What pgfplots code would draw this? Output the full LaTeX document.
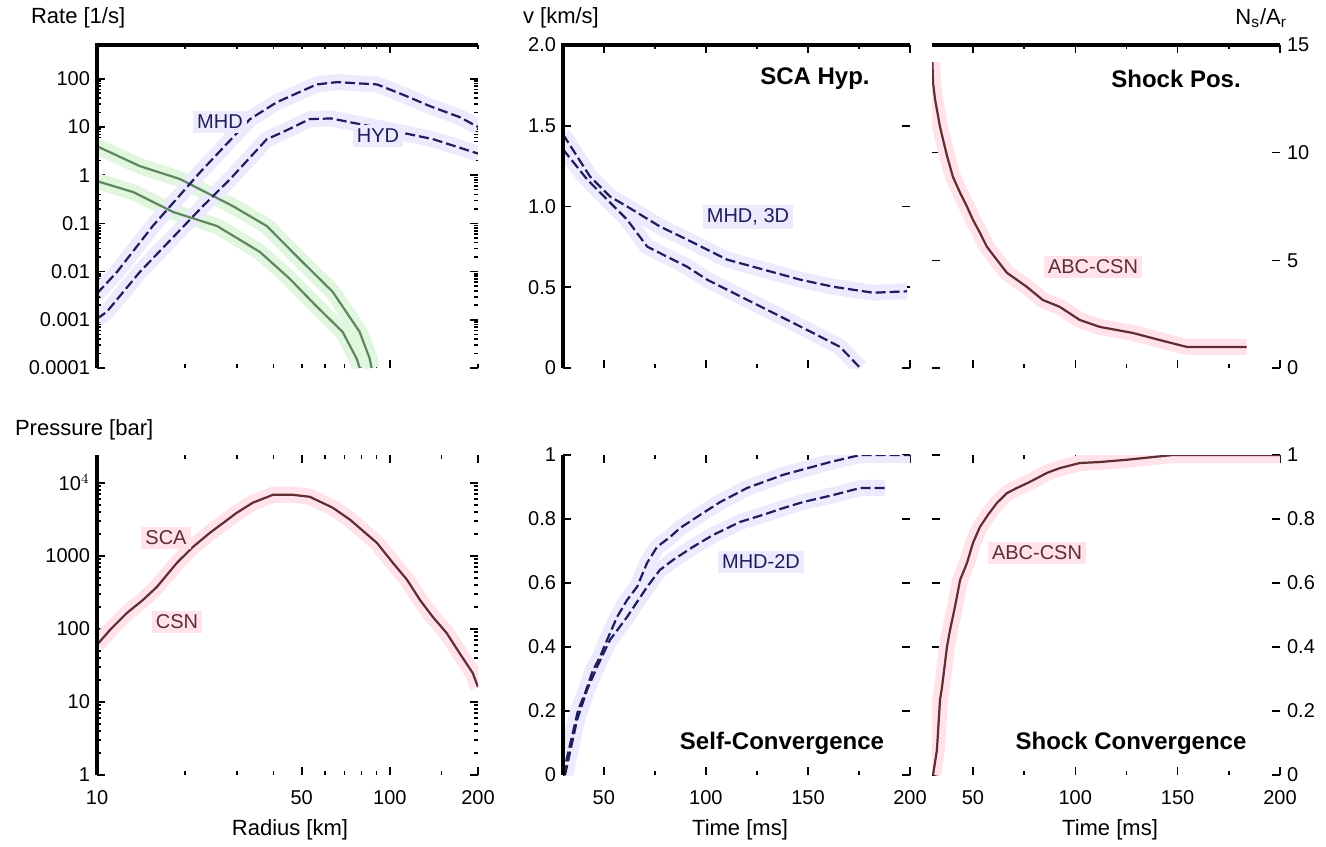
\documentclass[border=0pt]{standalone}
\usepackage{fontspec}
\setmainfont{Liberation Sans}
\usepackage{pgfplots}
\pgfplotsset{compat=1.18}
\usepackage{pgfplotstable}

\definecolor{bline}{RGB}{30,30,95}
\definecolor{bglow}{RGB}{236,234,252}
\definecolor{gline}{RGB}{95,135,95}
\definecolor{gglow}{RGB}{224,246,222}
\definecolor{rline}{RGB}{95,45,50}
\definecolor{rglow}{RGB}{255,226,234}

% top-left
\pgfplotstableread{
x y
10 0.0035
11.7 0.0098
15.5 0.088
22.5 1.15
33.3 14.5
41.1 32.5
56.2 76
66 85
90.5 76
114.5 43
137 27
173 16
200 10
}\tlA
\pgfplotstableread{
x y
10 0.00105
10.8 0.00146
14.0 0.0098
23.0 0.228
28.5 0.83
38.0 5.56
43.1 7.8
53.2 14.5
63 15
92 9.5
140 5.6
200 2.8
}\tlB
\pgfplotstableread{
x y
10 3.98
14.0 1.54
19.2 0.83
29.1 0.228
38.0 0.088
49.1 0.0183
63.8 0.0038
78.9 0.00056
85.4 0.000155
86.6 0.0001
}\tlGa
\pgfplotstableread{
x y
10 0.75
13.3 0.445
18.2 0.172
25.7 0.088
36.0 0.0255
45.5 0.0071
56.2 0.0019
69.0 0.00056
77.1 0.000155
78.9 0.0001
}\tlGb
% top-middle
\pgfplotstableread{
x y
30 1.447
43.2 1.186
53.0 1.062
61.4 1.0
77.5 0.876
90.8 0.795
110.4 0.671
123.1 0.627
146.2 0.547
162.4 0.503
182.0 0.466
198.6 0.475
}\tmA
\pgfplotstableread{
x y
30 1.354
41.8 1.168
51.6 1.043
61.4 0.919
71.2 0.752
81.0 0.689
90.8 0.627
100.6 0.547
113.3 0.466
132.9 0.342
152.5 0.217
165.8 0.130
175.6 0.0
}\tmB
% top-right
\pgfplotstableread{
x y
30.2 14.2
30.5 13.26
31.5 12.47
33.9 11.2
37.3 9.86
40.2 8.88
43.7 8.14
47.1 7.49
50.0 6.88
53.4 6.28
56.8 5.63
61.7 5.02
66.6 4.42
76.3 3.77
84.1 3.16
92.4 2.84
102.2 2.23
111.9 1.91
128.0 1.63
141.2 1.30
154.4 0.98
167.1 0.98
183.7 0.98
}\trA
% bottom-left
\pgfplotstableread{
x y
10 60.4
11.08 96.9
12.66 165.5
14.35 249
16.02 376
18.75 802
21.27 1327
24.3 2065
30.0 3882
34.0 5324
39.9 6850
46.6 6850
53.3 6430
63.9 4545
73.2 3113
90.3 1507
102.4 802
114.5 469
126.7 249
140.1 146
156.2 88.1
172.8 46.9
191.9 24.9
200 16.0
}\blA
% bottom-middle
\pgfplotstableread{
x y
30 0.0
37.4 0.203
40.8 0.256
44.7 0.328
48.1 0.369
51.6 0.422
56.5 0.494
61.4 0.547
66.3 0.588
71.2 0.663
76.1 0.713
82.5 0.744
87.4 0.772
97.2 0.813
107.0 0.853
120.2 0.897
137.8 0.938
160.9 0.978
175.6 1.0
200 1.0
}\bmA
\pgfplotstableread{
x y
31 0.0
36.9 0.172
41.8 0.266
46.7 0.338
53.0 0.422
61.4 0.494
71.2 0.588
77.5 0.641
83.9 0.672
93.7 0.713
103.5 0.75
116.8 0.791
128.0 0.813
137.8 0.834
147.6 0.853
162.4 0.875
175.6 0.897
187.8 0.897
}\bmB
% bottom-right
\pgfplotstableread{
x y
30.5 0.0
32.4 0.078
33.9 0.234
34.9 0.275
37.3 0.4
38.8 0.453
41.2 0.525
43.7 0.609
47.1 0.663
50.0 0.725
53.4 0.775
57.3 0.8125
61.7 0.85
66.6 0.881
71.5 0.897
77.8 0.916
86.1 0.944
92.4 0.959
102.2 0.975
111.9 0.978
125 0.985
147.6 1.0
200 1.0
}\brA

\pgfplotsset{
  panel/.style={scale only axis, anchor=north west, axis line style={draw=none},
    clip mode=individual,
    tick align=inside, major tick length=4pt, minor tick length=2pt,
    every tick/.style={black, line width=0.8pt},
    tick label style={font=\fontsize{10}{12}\selectfont},
    xticklabel style={yshift=-4pt},
    /pgf/number format/assume math mode=true},
  glow/.style={line width=8pt, line join=round},
  bl/.style={bline, line width=1.1pt, dash pattern=on 5pt off 2pt},
  gl/.style={gline, line width=1.1pt},
  rl/.style={rline, line width=1.1pt},
}

\begin{document}
\begin{tikzpicture}
\path[use as bounding box] (0,0) rectangle (663pt,-423pt);

% top-left
\begin{axis}[panel, at={(48.5pt,-22.5pt)}, width=190.5pt, height=161.5pt,
  xmode=log, ymode=log, xmin=10, xmax=200, ymin=1e-4, ymax=500,
  xtick={10,100}, minor xtick={20,30,40,50,60,70,80,90,200}, xticklabels={},
  ytick={1e-4,1e-3,1e-2,1e-1,1,10,100},
  yticklabels={0.0001,0.001,0.01,0.1,1,10,100}]
\addplot[gglow, glow] table {\tlGa};
\addplot[gglow, glow] table {\tlGb};
\addplot[bglow, glow] table {\tlA};
\addplot[bglow, glow] table {\tlB};
\addplot[gl] table {\tlGa};
\addplot[gl] table {\tlGb};
\addplot[bl] table {\tlA};
\addplot[bl] table {\tlB};
\draw[line width=2pt] (rel axis cs:0,0) -- (rel axis cs:0,1) -- (rel axis cs:1,1);
\end{axis}

% top-middle
\begin{axis}[panel, at={(281.5pt,-22.5pt)}, width=173.5pt, height=161.5pt,
  xmin=30, xmax=200, ymin=0, ymax=2,
  xtick={50,100,150,200}, minor xtick={75,125,175}, xticklabels={},
  ytick={0,0.5,1,1.5,2}, yticklabels={0,0.5,1.0,1.5,2.0}]
\addplot[bglow, glow] table {\tmA};
\addplot[bglow, glow] table {\tmB};
\addplot[bl] table {\tmA};
\addplot[bl] table {\tmB};
\draw[line width=2pt] (rel axis cs:0,0) -- (rel axis cs:0,1) -- (rel axis cs:1,1);
\end{axis}

% top-right
\begin{axis}[panel, at={(466pt,-22.5pt)}, width=174pt, height=161.5pt,
  xmin=30, xmax=200, ymin=0, ymax=15,
  xtick={50,100,150,200}, minor xtick={75,125,175}, xticklabels={},
  ytick={0,5,10,15}, yticklabel pos=right]
\addplot[rglow, glow] table {\trA};
\addplot[rl] table {\trA};
\draw[line width=2pt] (rel axis cs:0,1) -- (rel axis cs:1,1);
\end{axis}

% bottom-left
\begin{axis}[panel, at={(48.5pt,-227.5pt)}, width=190.5pt, height=160pt,
  xmode=log, ymode=log, xmin=10, xmax=200, ymin=1, ymax=24000,
  xtick={10,50,100,200}, xticklabels={10,50,100,200},
  minor xtick={20,30,40,60,70,80,90,150},
  ytick={1,10,100,1000,10000}, yticklabels={1,10,100,1000,10$^4$}]
\addplot[rglow, glow] table {\blA};
\addplot[rl] table {\blA};
\draw[line width=2pt] (rel axis cs:0,0) -- (rel axis cs:0,1);
\end{axis}

% bottom-middle
\begin{axis}[panel, at={(281.5pt,-227.5pt)}, width=173.5pt, height=160pt,
  xmin=30, xmax=200, ymin=0, ymax=1,
  xtick={50,100,150,200}, minor xtick={75,125,175},
  ytick={0,0.2,0.4,0.6,0.8,1}]
\addplot[bglow, glow] table {\bmA};
\addplot[bglow, glow] table {\bmB};
\addplot[bl] table {\bmA};
\addplot[bl] table {\bmB};
\draw[line width=2pt] (rel axis cs:0,0) -- (rel axis cs:0,1);
\end{axis}

% bottom-right
\begin{axis}[panel, at={(466pt,-227.5pt)}, width=174pt, height=160pt,
  xmin=30, xmax=200, ymin=0, ymax=1,
  xtick={50,100,150,200}, minor xtick={75,125,175},
  ytick={0,0.2,0.4,0.6,0.8,1}, yticklabel pos=right]
\addplot[rglow, glow] table {\brA};
\addplot[rl] table {\brA};
\end{axis}

% texts
\begin{scope}[every node/.style={font=\fontsize{11}{13}\selectfont}]
\node[anchor=west] at (12pt,-9pt) {Rate [1/s]};
\node[anchor=west] at (258pt,-9pt) {v [km/s]};
\node[anchor=east] at (647pt,-9pt) {N\textsubscript{s}/A\textsubscript{r}};
\node[anchor=west] at (4pt,-215pt) {Pressure [bar]};
\node at (145pt,-415pt) {Radius [km]};
\node at (370pt,-415pt) {Time [ms]};
\node at (555pt,-415pt) {Time [ms]};
\end{scope}
\begin{scope}[every node/.style={font=\fontsize{10}{12}\selectfont, inner sep=2pt}]
\node[text=bline, fill=bglow] at (110pt,-61pt) {MHD};
\node[text=bline, fill=bglow] at (189pt,-68pt) {HYD};
\node[text=bline, fill=bglow] at (374pt,-108.5pt) {MHD, 3D};
\node[text=rline, fill=rglow] at (546.5pt,-133.5pt) {ABC-CSN};
\node[text=rline, fill=rglow] at (83pt,-269pt) {SCA};
\node[text=rline, fill=rglow] at (88.5pt,-311pt) {CSN};
\node[text=bline, fill=bglow] at (380.5pt,-281pt) {MHD-2D};
\node[text=rline, fill=rglow] at (518.5pt,-276.5pt) {ABC-CSN};
\end{scope}
\begin{scope}[every node/.style={font=\bfseries\fontsize{12}{14}\selectfont}]
\node at (407.5pt,-39.5pt) {SCA Hyp.};
\node at (588pt,-39.5pt) {Shock Pos.};
\node at (391pt,-371.5pt) {Self-Convergence};
\node at (565.5pt,-371.5pt) {Shock Convergence};
\end{scope}
\end{tikzpicture}
\end{document}
